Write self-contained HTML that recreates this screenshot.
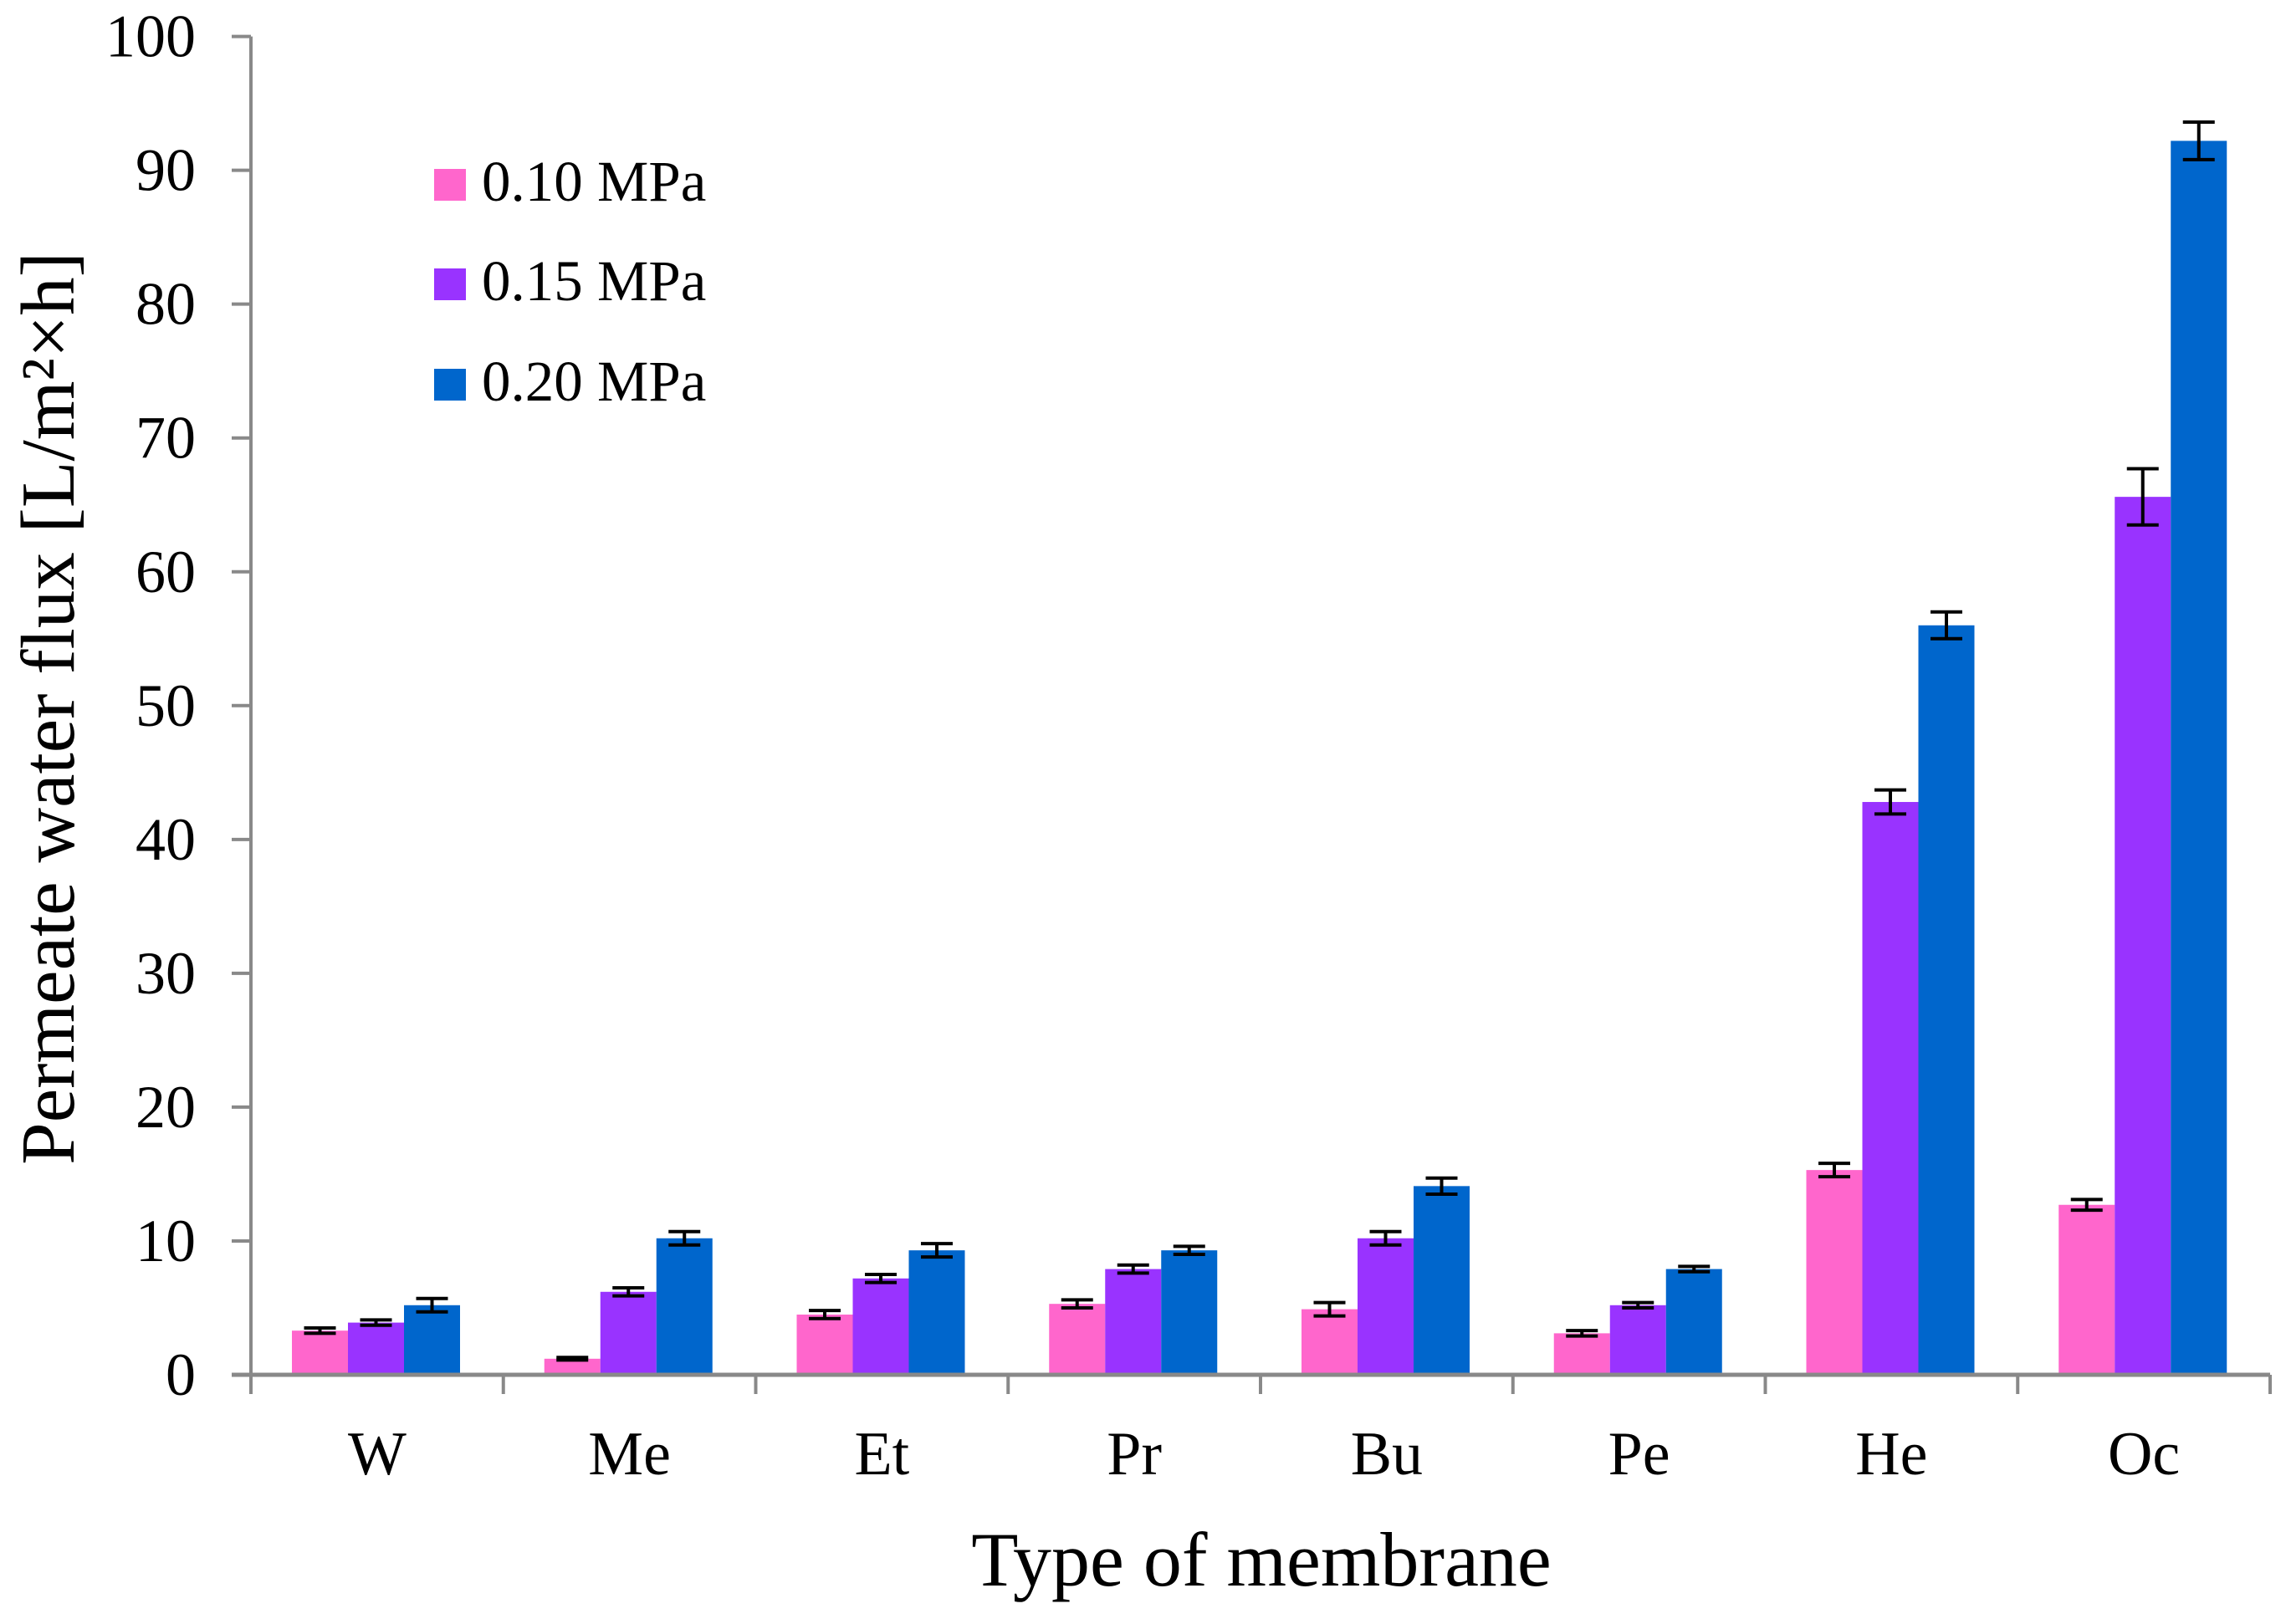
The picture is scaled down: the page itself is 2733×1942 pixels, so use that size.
<!DOCTYPE html>
<html><head><meta charset="utf-8"><style>
html,body{margin:0;padding:0;background:#fff;}
svg{display:block;font-family:"Liberation Serif",serif;}
</style></head><body>
<svg id="chart" width="2733" height="1942" viewBox="0 0 2733 1942" xmlns="http://www.w3.org/2000/svg">
<g id="bars"></g>
<g id="axes"></g>
<text transform="translate(88,847) rotate(-90)" text-anchor="middle" font-size="91">Permeate water flux [L/m²×h]</text>
<text x="1508" y="1896" text-anchor="middle" font-size="92">Type of membrane</text>
<g>
<rect x="519" y="202" width="38" height="38" fill="#ff66cc"/>
<text x="576" y="240" font-size="69">0.10 MPa</text>
<rect x="519" y="321" width="38" height="38" fill="#9933ff"/>
<text x="576" y="359" font-size="69">0.15 MPa</text>
<rect x="519" y="441" width="38" height="38" fill="#0066cc"/>
<text x="576" y="479" font-size="69">0.20 MPa</text>
</g>
</svg>
<script>
const categories = ["W","Me","Et","Pr","Bu","Pe","He","Oc"];
const s010 = [3.3,1.2,4.5,5.3,4.9,3.1,15.3,12.7];
const s015 = [3.9,6.2,7.2,7.9,10.2,5.2,42.8,65.6];
const s020 = [5.2,10.2,9.3,9.3,14.1,7.9,56.0,92.2];
const e010 = [0.2,0.1,0.3,0.3,0.5,0.2,0.5,0.4];
const e015 = [0.2,0.3,0.3,0.3,0.5,0.2,0.9,2.1];
const e020 = [0.5,0.5,0.5,0.3,0.6,0.2,1.0,1.4];
const yTicks = [0,10,20,30,40,50,60,70,80,90,100];

const NS="http://www.w3.org/2000/svg";
const X0=300, X1=2714, Y0=1644, Y100=43.6;
const catW=(X1-X0)/categories.length, barW=67, off=49;
function y(v){return Y0-(v/100)*(Y0-Y100);}
function xBar(i,s){return X0+i*catW+off+s*barW;}
function mk(tag,attrs,parent){const e=document.createElementNS(NS,tag);for(const k in attrs)e.setAttribute(k,attrs[k]);parent.appendChild(e);return e;}
const bars=document.getElementById('bars'), axes=document.getElementById('axes');
const series=[s010,s015,s020], errs=[e010,e015,e020], colors=["#ff66cc","#9933ff","#0066cc"], sn=["010","015","020"];
series.forEach((arr,s)=>{arr.forEach((v,i)=>{
  const r=mk('rect',{x:xBar(i,s),y:y(v),width:barW,height:Y0-y(v),fill:colors[s]},bars);
  
  
});});
series.forEach((arr,s)=>{arr.forEach((v,i)=>{
  const cx=xBar(i,s)+barW/2, e=errs[s][i];
  const g=mk('g',{stroke:'#000','stroke-width':4},bars);
  
  
  mk('line',{x1:cx,x2:cx,y1:y(v+e),y2:y(v-e)},g);
  mk('line',{x1:cx-19,x2:cx+19,y1:y(v+e),y2:y(v+e)},g);
  mk('line',{x1:cx-19,x2:cx+19,y1:y(v-e),y2:y(v-e)},g);
});});
const ax=mk('line',{x1:X0,x2:X0,y1:Y100,y2:Y0,stroke:'#898989','stroke-width':4},axes);


const xa=mk('line',{x1:X0-23,x2:X1,y1:Y0,y2:Y0,stroke:'#898989','stroke-width':5},axes);


yTicks.forEach(t=>{
  mk('line',{x1:X0-23,x2:X0,y1:y(t),y2:y(t),stroke:'#898989','stroke-width':4},axes);
  const tx=mk('text',{x:X0-66,y:y(t)+24,'text-anchor':'end','font-size':72},axes);
  tx.textContent=t;
  
  
});
for(let i=0;i<=categories.length;i++){
  mk('line',{x1:X0+i*catW,x2:X0+i*catW,y1:Y0,y2:Y0+23,stroke:'#898989','stroke-width':4},axes);
}
categories.forEach((c,i)=>{
  const tx=mk('text',{x:X0+(i+0.5)*catW,y:1763,'text-anchor':'middle','font-size':74},axes);
  tx.textContent=c;
  
  
});
</script>
</body></html>
